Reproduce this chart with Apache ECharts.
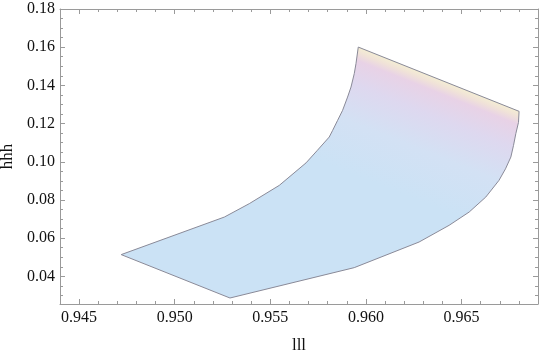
<!DOCTYPE html>
<html>
<head>
<meta charset="utf-8">
<script src="https://cdn.jsdelivr.net/npm/echarts@6/dist/echarts.min.js"></script>
<style>
html,body{margin:0;padding:0;background:#fff;}
#c{width:540px;height:355px;}
</style>
</head>
<body>
<div id="c"></div>
<script>
// Region boundary (clockwise from left tip)
var boundaryX = [0.94720, 0.95260, 0.95390, 0.95547, 0.95687, 0.95746, 0.95808, 0.95826, 0.95852, 0.95878,
                 0.95904, 0.95922, 0.95939, 0.95948, 0.95960,
                 0.96801, 0.96798, 0.96784, 0.96772, 0.96758, 0.96730, 0.96696, 0.96627, 0.96540, 0.96435,
                 0.96278, 0.95939, 0.95289];
var boundaryY = [0.05136, 0.07105, 0.07806, 0.08764, 0.09942, 0.10597, 0.11293, 0.11644, 0.12168, 0.12691,
                 0.13387, 0.13911, 0.14613, 0.15136, 0.16005,
                 0.12640, 0.12063, 0.11471, 0.10859, 0.10246, 0.09628, 0.09026, 0.08152, 0.07366, 0.06670,
                 0.05796, 0.04455, 0.02864];

var xMajorTicks = [0.945, 0.950, 0.955, 0.960, 0.965];
var yMajorTicks = [0.04, 0.06, 0.08, 0.10, 0.12, 0.14, 0.16, 0.18];
var xMinorTicks = [0.944, 0.946, 0.947, 0.948, 0.949, 0.951, 0.952, 0.953, 0.954, 0.956, 0.957, 0.958, 0.959,
                   0.961, 0.962, 0.963, 0.964, 0.966, 0.967, 0.968];
var yMinorTicks = [0.030, 0.035, 0.045, 0.050, 0.055, 0.065, 0.070, 0.075, 0.085, 0.090, 0.095, 0.105, 0.110,
                   0.115, 0.125, 0.130, 0.135, 0.145, 0.150, 0.155, 0.165, 0.170, 0.175];

var X_MIN = 0.944, X_MAX = 0.969, Y_MIN = 0.0255, Y_MAX = 0.18;
var frameColor = '#9a9a9a';
var textColor = '#111';
var fontFam = '"Liberation Serif", "DejaVu Serif", serif';

function xAx(pos, ticks, len, showLine, showLabel) {
  return {
    type: 'value', position: pos, min: X_MIN, max: X_MAX,
    splitLine: {show: false},
    axisLine: {show: showLine, onZero: false, lineStyle: {color: frameColor, width: 1}},
    axisTick: {show: true, inside: true, length: len, customValues: ticks, lineStyle: {color: frameColor, width: 1}},
    axisLabel: showLabel ? {show: true, customValues: ticks, margin: 6, color: textColor, fontFamily: fontFam, fontSize: 16,
      formatter: function (v) { return v.toFixed(3); }} : {show: false},
    name: showLabel ? 'lll' : '', nameLocation: 'middle', nameGap: 33, nameMoveOverlap: false,
    nameTextStyle: {color: textColor, fontFamily: fontFam, fontSize: 17}
  };
}
function yAx(pos, ticks, len, showLine, showLabel) {
  return {
    type: 'value', position: pos, min: Y_MIN, max: Y_MAX,
    splitLine: {show: false},
    axisLine: {show: showLine, onZero: false, lineStyle: {color: frameColor, width: 1}},
    axisTick: {show: true, inside: true, length: len, customValues: ticks, lineStyle: {color: frameColor, width: 1}},
    axisLabel: showLabel ? {show: true, customValues: ticks, margin: 5, color: textColor, fontFamily: fontFam, fontSize: 16,
      formatter: function (v) { return v.toFixed(2); }} : {show: false},
    name: showLabel ? 'hhh' : '', nameLocation: 'middle', nameGap: 44, nameRotate: 90, nameMoveOverlap: false,
    nameTextStyle: {color: textColor, fontFamily: fontFam, fontSize: 17}
  };
}

var chart = echarts.init(document.getElementById('c'), null, {renderer: 'canvas'});
var fillGrad = new echarts.graphic.LinearGradient(0.798, 0.128, 0.686, 0.573, [
  {offset: 0.00, color: '#f4eed3'},
  {offset: 0.05, color: '#f0e2d8'},
  {offset: 0.11, color: '#e8d2e6'},
  {offset: 0.30, color: '#ded8ef'},
  {offset: 0.60, color: '#d3e1f4'},
  {offset: 1.00, color: '#cbe2f5'}
]);

chart.setOption({
  animation: false,
  backgroundColor: '#fff',
  grid: {left: 60, right: 2, top: 9, bottom: 51, containLabel: false, outerBoundsMode: 'none'},
  xAxis: [
    xAx('bottom', xMajorTicks, 5, true, true),
    xAx('bottom', xMinorTicks, 3, false, false),
    xAx('top', xMajorTicks, 5, true, false),
    xAx('top', xMinorTicks, 3, false, false)
  ],
  yAxis: [
    yAx('left', yMajorTicks, 5, true, true),
    yAx('left', yMinorTicks, 3, false, false),
    yAx('right', yMajorTicks, 5, true, false),
    yAx('right', yMinorTicks, 3, false, false)
  ],
  series: [{
    type: 'custom',
    coordinateSystem: 'cartesian2d',
    xAxisIndex: 0, yAxisIndex: 0,
    data: [[boundaryX[0], boundaryY[0]]],
    silent: true,
    renderItem: function (params, api) {
      var pts = boundaryX.map(function (x, i) { return api.coord([x, boundaryY[i]]); });
      return {
        type: 'polygon',
        shape: {points: pts},
        style: {fill: fillGrad, stroke: '#8a8a98', lineWidth: 1}
      };
    }
  }]
});
</script>
</body>
</html>
